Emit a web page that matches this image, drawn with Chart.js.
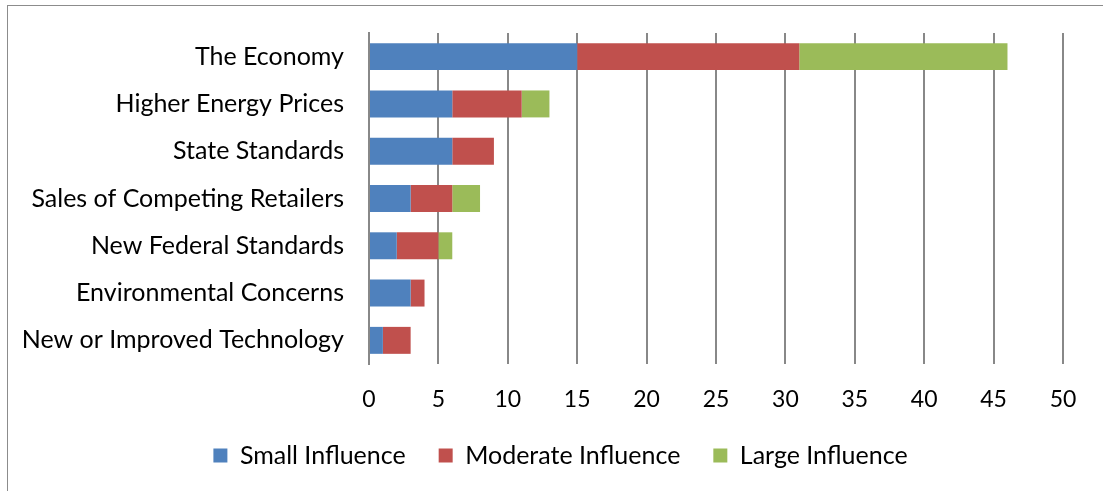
<!DOCTYPE html>
<html>
<head>
<meta charset="utf-8">
<script src="https://cdn.jsdelivr.net/npm/chart.js@4.4.1/dist/chart.umd.min.js"></script>
<style>
  html, body { margin: 0; padding: 0; background: #fff; }
  #wrap { position: relative; width: 1103px; height: 491px; }
  #frame { position: absolute; left: 7px; top: 5px; right: 0; bottom: 0;
           border-left: 1px solid #8c8c8c; border-top: 1px solid #8c8c8c; pointer-events: none; }
  canvas { position: absolute; left: 0; top: 0; }
</style>
</head>
<body>
<div id="wrap">
  <canvas id="chart" width="1103" height="491"></canvas>
  <div id="frame"></div>
</div>
<script>
const categories = [
  "The Economy",
  "Higher Energy Prices",
  "State Standards",
  "Sales of Competing Retailers",
  "New Federal Standards",
  "Environmental Concerns",
  "New or Improved Technology"
];
const smallInfluence = [15, 6, 6, 3, 2, 3, 1];
const moderateInfluence = [16, 5, 3, 3, 3, 1, 2];
const largeInfluence = [15, 2, 0, 2, 1, 0, 0];
const xTicks = [0, 5, 10, 15, 20, 25, 30, 35, 40, 45, 50];

const FONT = "Lato, 'Open Sans', sans-serif";

// nudge the legend to sit centred under the whole picture like the original
const legendShift = {
  id: "legendShift",
  afterLayout(chart) {
    chart.legend.left += 29;
    chart.legend.right += 29;
  }
};

const ctx = document.getElementById("chart");
new Chart(ctx, {
  type: "bar",
  data: {
    labels: categories,
    datasets: [
      { label: "Small Influence", data: smallInfluence, backgroundColor: "#4F81BD" },
      { label: "Moderate Influence", data: moderateInfluence, backgroundColor: "#C0504D" },
      { label: "Large Influence", data: largeInfluence, backgroundColor: "#9BBB59" }
    ]
  },
  plugins: [legendShift],
  options: {
    indexAxis: "y",
    responsive: false,
    animation: false,
    layout: { padding: { top: 33, right: 40, left: 0, bottom: 13 } },
    datasets: { bar: { barPercentage: 1, categoryPercentage: 0.57 } },
    plugins: {
      tooltip: { enabled: false },
      legend: {
        position: "bottom",
        labels: {
          boxWidth: 14,
          boxHeight: 14,
          padding: 33,
          color: "#000",
          font: { family: FONT, size: 25 }
        }
      }
    },
    scales: {
      x: {
        stacked: true,
        min: 0,
        max: 50,
        afterBuildTicks: (scale) => { scale.ticks = xTicks.map(v => ({ value: v })); },
        grid: { color: "#888", lineWidth: 2, drawTicks: false },
        border: { display: false },
        ticks: { color: "#000", padding: 22, maxRotation: 0, font: { family: FONT, size: 23 } },
        afterFit: (scale) => { scale.height = 46; }
      },
      y: {
        stacked: true,
        grid: { display: false, drawTicks: false },
        border: { display: true, color: "#888", width: 2 },
        ticks: { color: "#000", padding: 25, font: { family: FONT, size: 25 } },
        afterFit: (scale) => {
          scale.width = 369;
          scale.paddingTop = 0;
          scale.paddingBottom = 0;
        }
      }
    }
  }
});
</script>
</body>
</html>
